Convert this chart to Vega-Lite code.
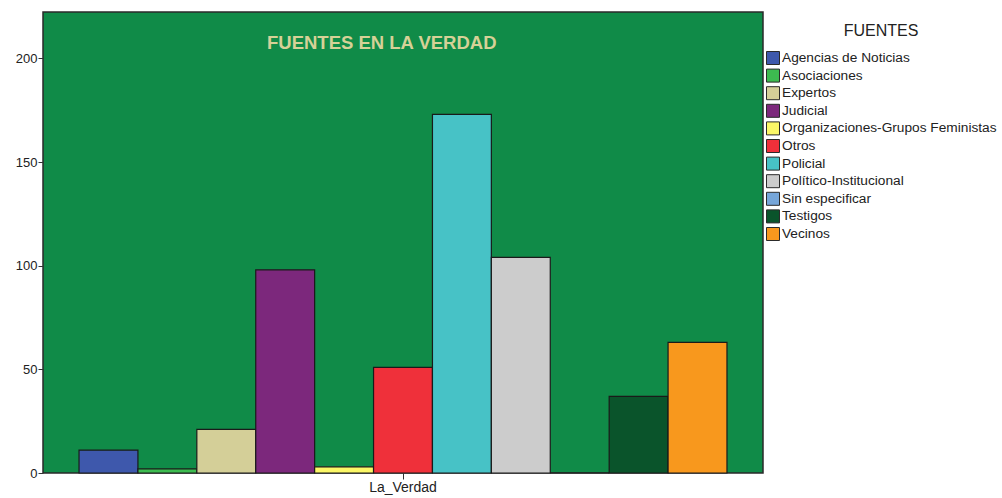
{
  "$schema": "https://vega.github.io/schema/vega-lite/v6.json",
  "width": 720,
  "height": 461,
  "autosize": {"type": "none"},
  "padding": {"left": 43, "top": 12, "right": 239, "bottom": 25},
  "background": "white",
  "config": {
    "font": "Liberation Sans",
    "view": {"fill": "#108b48", "stroke": "#2a2a2a", "strokeWidth": 1.5}
  },
  "title": {
    "text": "FUENTES EN LA VERDAD",
    "anchor": "start",
    "frame": "group",
    "orient": "top",
    "baseline": "top",
    "offset": -40,
    "dx": 224,
    "font": "Liberation Sans",
    "fontSize": 18.5,
    "fontWeight": "bold",
    "color": "#d6d197"
  },
  "data": {
    "values": [
      {"medio": "La_Verdad", "FUENTES": "Agencias de Noticias", "n": 11},
      {"medio": "La_Verdad", "FUENTES": "Asociaciones", "n": 2},
      {"medio": "La_Verdad", "FUENTES": "Expertos", "n": 21},
      {"medio": "La_Verdad", "FUENTES": "Judicial", "n": 98},
      {"medio": "La_Verdad", "FUENTES": "Organizaciones-Grupos Feministas", "n": 3},
      {"medio": "La_Verdad", "FUENTES": "Otros", "n": 51},
      {"medio": "La_Verdad", "FUENTES": "Policial", "n": 173},
      {"medio": "La_Verdad", "FUENTES": "Político-Institucional", "n": 104},
      {"medio": "La_Verdad", "FUENTES": "Sin especificar", "n": 0},
      {"medio": "La_Verdad", "FUENTES": "Testigos", "n": 37},
      {"medio": "La_Verdad", "FUENTES": "Vecinos", "n": 63}
    ]
  },
  "mark": {"type": "bar", "stroke": "#1a1a1a", "strokeWidth": 1.2},
  "encoding": {
    "x": {
      "field": "medio",
      "type": "nominal",
      "title": null,
      "scale": {"paddingInner": 0, "paddingOuter": 0.0556},
      "axis": {
        "labelAngle": 0,
        "labelFontSize": 14,
        "labelColor": "#222",
        "tickColor": "#333",
        "tickSize": 6,
        "domain": false,
        "labelPadding": 1
      }
    },
    "xOffset": {
      "field": "FUENTES",
      "type": "nominal",
      "scale": {"paddingInner": 0, "paddingOuter": 0}
    },
    "y": {
      "field": "n",
      "type": "quantitative",
      "title": null,
      "scale": {"domain": [0, 222.4], "nice": false},
      "axis": {
        "values": [0, 50, 100, 150, 200],
        "grid": false,
        "domain": false,
        "labelFontSize": 13,
        "labelColor": "#222",
        "tickColor": "#333",
        "tickSize": 5,
        "labelPadding": 1
      }
    },
    "color": {
      "field": "FUENTES",
      "type": "nominal",
      "scale": {
        "domain": ["Agencias de Noticias", "Asociaciones", "Expertos", "Judicial", "Organizaciones-Grupos Feministas", "Otros", "Policial", "Político-Institucional", "Sin especificar", "Testigos", "Vecinos"],
        "range": ["#3e58ac", "#3dbb50", "#d4cf98", "#7c287c", "#fbf767", "#ef303a", "#47c2c6", "#cccccc", "#76a6d9", "#0a542b", "#f8981d"]
      },
      "legend": {
        "orient": "none",
        "legendX": 723,
        "legendY": 11,
        "title": "FUENTES",
        "titleFontSize": 16,
        "titleFontWeight": "normal",
        "titleColor": "#222",
        "titleAnchor": "middle",
        "titlePadding": 12,
        "symbolType": "square",
        "symbolSize": 169,
        "symbolStrokeColor": "#2a2a2a",
        "symbolStrokeWidth": 1,
        "symbolOpacity": 1,
        "labelFontSize": 13.7,
        "labelColor": "#222",
        "labelOffset": 2,
        "rowPadding": -0.4,
        "labelLimit": 300
      }
    }
  }
}
